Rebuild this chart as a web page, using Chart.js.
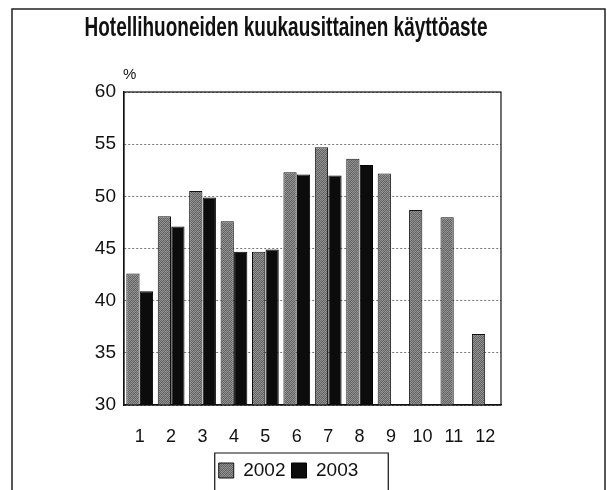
<!DOCTYPE html>
<html>
<head>
<meta charset="utf-8">
<script src="https://cdn.jsdelivr.net/npm/chart.js@4.4.1/dist/chart.umd.min.js"></script>
<style>
  html, body { margin: 0; padding: 0; background: #fff; }
  #wrap { width: 607px; height: 490px; }
</style>
</head>
<body>
<div id="wrap"><canvas id="chart" width="607" height="490"></canvas></div>
<script>
const title = 'Hotellihuoneiden kuukausittainen käyttöaste';
const months = ['1', '2', '3', '4', '5', '6', '7', '8', '9', '10', '11', '12'];
const y2002 = [42.6, 48.1, 50.5, 47.6, 44.7, 52.3, 54.7, 53.6, 52.2, 48.7, 48.0, 36.8];
const y2003 = [40.9, 47.1, 49.9, 44.7, 44.9, 52.1, 52.0, 53.0, null, null, null, null];
const yTicks = [30, 35, 40, 45, 50, 55, 60];

const FONT = "'Liberation Sans', Arial, sans-serif";

// speckled grey fill like the scanned print
function makeGrey() {
  const c = document.createElement('canvas');
  c.width = 4; c.height = 4;
  const g = c.getContext('2d');
  const shades = [
    '#8a8a8a', '#5e5e5e', '#949494', '#6c6c6c',
    '#6a6a6a', '#989898', '#5a5a5a', '#8c8c8c',
    '#909090', '#646464', '#8e8e8e', '#606060',
    '#666666', '#929292', '#6e6e6e', '#969696'
  ];
  shades.forEach((s, i) => { g.fillStyle = s; g.fillRect((i * 3) % 4, Math.floor(i / 4), 1, 1); });
  return g.createPattern(c, 'repeat');
}
const ctx = document.getElementById('chart').getContext('2d');
const grey = makeGrey();

const frame = {
  id: 'frame',
  afterLayout(chart) {
    // legend sits a little left of the page centre in the original
    chart.legend.left -= 15;
    chart.legend.right -= 15;
  },
  beforeDraw(chart) {
    const c = chart.ctx;
    c.save();
    c.strokeStyle = '#222';
    c.lineWidth = 1.5;
    c.beginPath();
    c.moveTo(12, 490);
    c.lineTo(12, 9);
    c.lineTo(605, 9);
    c.lineTo(605, 490);
    c.stroke();
    // title
    c.fillStyle = '#111';
    c.font = "bold 27px 'Liberation Sans Narrow', 'Liberation Sans', Arial, sans-serif";
    c.textAlign = 'center';
    c.textBaseline = 'middle';
    c.fillText(title, 286, 29, 403);
    c.restore();
  },
  afterDraw(chart) {
    const a = chart.chartArea;
    const c = chart.ctx;
    c.save();
    c.strokeStyle = '#111';
    c.lineWidth = 1.2;
    c.strokeRect(a.left, a.top, a.right - a.left, a.bottom - a.top);
    // % unit label
    c.fillStyle = '#111';
    c.font = '15px ' + FONT;
    c.textAlign = 'left';
    c.textBaseline = 'middle';
    c.fillText('%', a.left - 1, 75);
    // box around legend
    const boxes = chart.legend.legendHitBoxes;
    if (boxes && boxes.length) {
      const x0 = Math.min(...boxes.map(b => b.left)) - 4;
      const x1 = Math.max(...boxes.map(b => b.left + b.width)) + 30;
      const y0 = Math.min(...boxes.map(b => b.top)) - 8;
      c.lineWidth = 1.2;
      c.beginPath();
      c.moveTo(x0, 490);
      c.lineTo(x0, y0);
      c.lineTo(x1, y0);
      c.lineTo(x1, 490);
      c.stroke();
    }
    c.restore();
  }
};

new Chart(ctx, {
  type: 'bar',
  data: {
    labels: months,
    datasets: [
      {
        label: '2002',
        data: y2002,
        backgroundColor: grey,
        borderColor: '#111',
        borderWidth: 1,
        borderSkipped: 'bottom'
      },
      {
        label: '2003',
        data: y2003,
        backgroundColor: '#0c0c0c',
        borderColor: '#000',
        borderWidth: 1,
        borderSkipped: 'bottom'
      }
    ]
  },
  options: {
    responsive: false,
    animation: false,
    categoryPercentage: 0.86,
    barPercentage: 0.98,
    layout: { padding: { top: 92, left: 0, right: 0, bottom: 0 } },
    plugins: {
      title: { display: false },
      tooltip: { enabled: false },
      legend: {
        position: 'bottom',
        labels: {
          color: '#111',
          font: { family: FONT, size: 19 },
          boxWidth: 15,
          boxHeight: 15,
          padding: 6
        }
      }
    },
    scales: {
      x: {
        grid: { display: false, drawTicks: false },
        border: { display: true, color: '#111', width: 1.2 },
        ticks: {
          color: '#111',
          font: { family: FONT, size: 18 },
          padding: 21
        },
        afterFit(s) { s.height = 50; }
      },
      y: {
        min: 30,
        max: 60,
        afterBuildTicks(s) { s.ticks = yTicks.map(v => ({ value: v })); },
        grid: { color: '#777', tickLength: 0, drawTicks: false },
        border: { display: true, color: '#111', width: 1.2, dash: [2, 2] },
        ticks: {
          color: '#111',
          font: { family: FONT, size: 19 },
          padding: 8
        },
        afterFit(s) { s.width = 124; }
      },
      yRight: {
        position: 'right',
        display: true,
        grid: { display: false, drawTicks: false },
        border: { display: false },
        ticks: { display: false },
        afterFit(s) { s.width = 106; }
      }
    }
  },
  plugins: [frame]
});
</script>
</body>
</html>
